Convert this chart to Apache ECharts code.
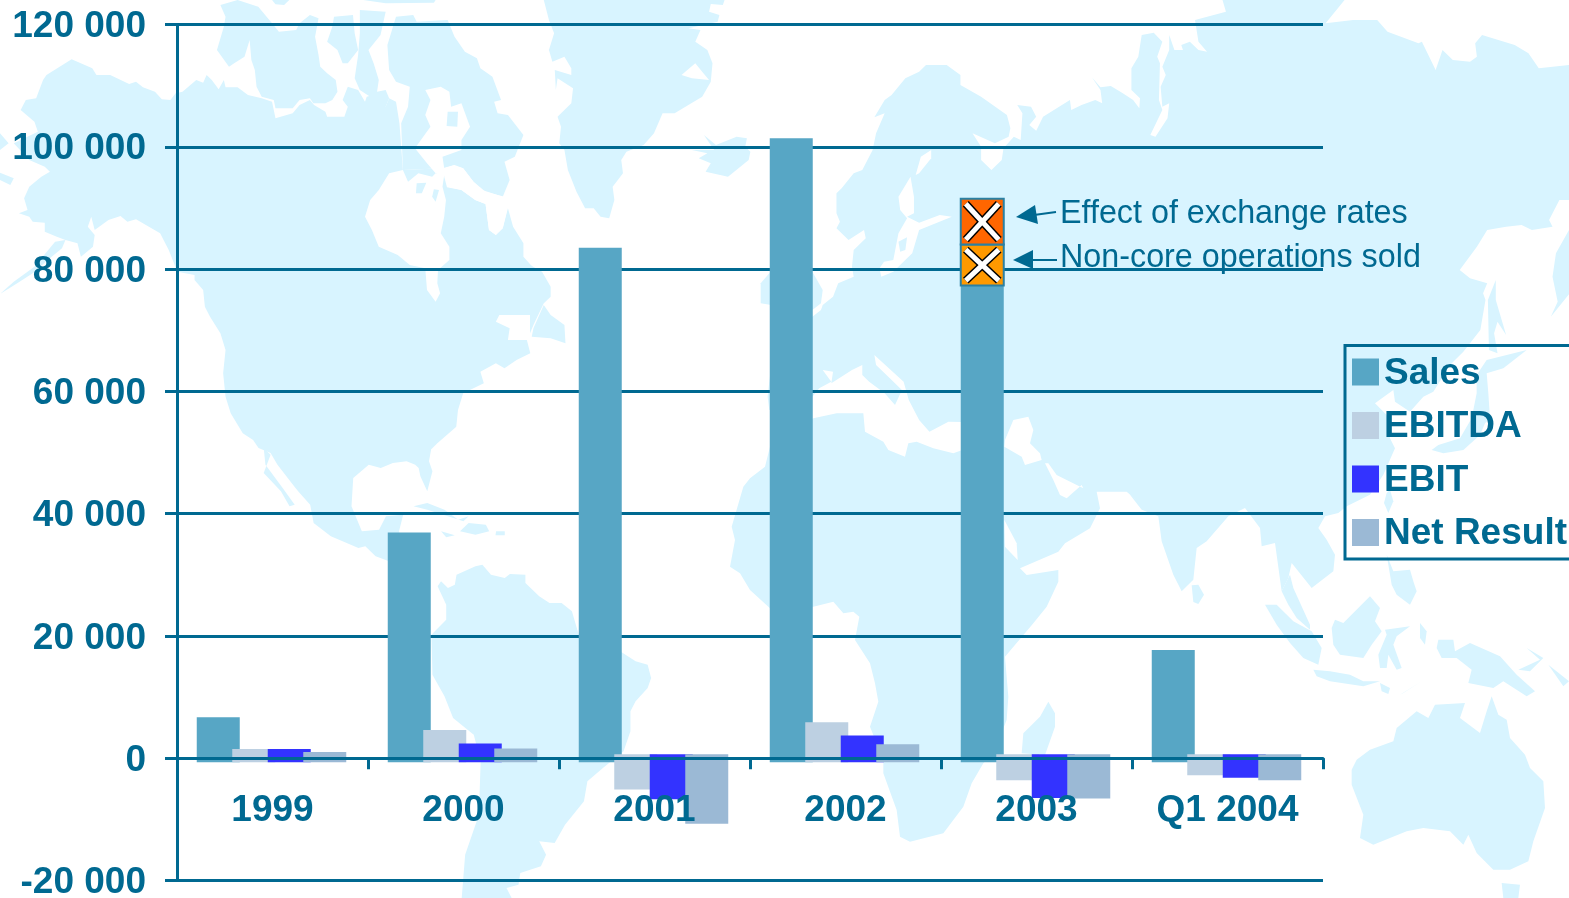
<!DOCTYPE html>
<html><head><meta charset="utf-8">
<style>html,body{margin:0;padding:0;background:#fff;overflow:hidden}#c{width:1569px;height:898px}</style>
<script src="https://cdn.jsdelivr.net/npm/echarts@6/dist/echarts.min.js"></script>
</head><body><div id="c"></div>
<script>
const categories = ['1999','2000','2001','2002','2003','Q1 2004'];
const salesValues = [6700,36900,83500,101400,77300,17700];
const ebitdaValues = [1500,4600,-5100,5900,-3600,-2800];
const ebitValues = [1500,2400,-6700,3700,-6500,-3200];
const netResultValues = [1000,1600,-10700,2300,-6600,-3600];
const nonCoreValues = [0,0,0,0,6700,0];
const exchangeValues = [0,0,0,0,7500,0];
const yTicks = {min:-20000,max:120000,interval:20000};
const baselineOverhang = 650;

const TEXT='#006991', LAND='#d8f4ff', FONT='"Liberation Sans",Arial,sans-serif';

// ---- decorative world map backdrop (traced crop coordinates -> page) ----
const tr=(ox,oy,sx,sy)=>a=>{const r=[];for(let i=0;i<a.length;i+=2)r.push([ox+a[i]/sx,oy+a[i+1]/sy]);return r;};
const Z5=tr(0,0,2.904,3),Z6=tr(530,0,2.904,3),Z7=tr(1030,0,2.909,3),Z8=tr(200,448,2.904,3),Z9=tr(700,400,3,3),Z10=tr(1130,448,3,3),Z3=tr(1330,335,3,3);
const landShapes=[
 // North America
 [...Z5([60,330,75,300,105,295,125,240,135,225,208,178,268,205,280,225,320,225,375,252,395,245,415,262,450,275,470,298,495,300,510,280,530,275,570,240,590,248,600,225,615,240,635,268,650,240,655,262,690,262,720,285,760,295,790,305,800,355,850,340,870,315,900,300,912,315,945,335,950,350,1000,350,1010,320,995,300,1010,260,1040,270,1060,305,1065,290,1100,280,1120,320,1130,295,1150,305,1160,370,1170,510,1285,505,1300,560,1340,570,1380,600,1410,612,1420,690,1440,705,1460,685,1475,625,1490,680,1520,730,1520,770,1550,805,1568,810,1568,915,1540,945,1450,945,1440,965,1480,985,1475,1020,1530,1020,1540,1060,1500,1080,1465,1105,1440,1090,1395,1115,1405,1150,1345,1180,1330,1230,1325,1280,1270,1330,1250,1350]),
  ...Z8([672,0,665,40,675,70,660,130,640,85,635,60,625,50,600,40,560,45,525,60,490,50,445,90,440,175,470,250,520,245,540,205,590,200,578,250,600,340,549,340,510,325,480,295,460,300,380,265,330,225,320,170,285,130,270,110,225,50,205,15,170,0]),
  ...Z5([735,1320,705,1300,670,1240,655,1190,648,1120,655,1050,640,1000,610,950,595,920,590,870,565,840,565,825,515,815,490,750,465,700,395,658,370,665,350,648,315,660,275,690,265,650,255,680,275,705,270,740,235,770,225,730,190,720,165,710,130,695,130,668,95,665,85,650,55,640,80,630,70,595,85,560,120,530,145,515,130,500,85,480,40,430,110,395,100,365])],
 Z5([190,720,180,745,150,770,95,820,50,850,0,882,40,845,100,800,160,725]),
 Z5([0,400,25,430,0,450]), Z5([0,518,40,535,30,555,0,540]),
 Z8([185,0,190,50,240,120,275,170,260,175,235,130,185,75,205,20]),
 Z5([640,15,690,0,750,20,790,70,810,95,860,90,870,70,900,45,925,55,915,110,925,165,930,200,950,220,975,240,980,275,965,300,945,310,910,310,900,295,870,300,850,325,800,325,795,300,760,290,745,260,740,210,730,180,725,120,710,170,680,190,665,200,630,150,650,80,655,50]),
 Z5([970,50,1025,45,1030,100,1040,150,1010,190,995,190,980,150,950,125,965,80]),
 Z5([1045,30,1120,35,1105,105,1070,150,1085,190,1100,240,1095,275,1120,270,1130,295,1120,320,1075,290,1045,270,1030,235,1040,165,1045,100]),
 Z5([1125,135,1150,50,1200,45,1210,65,1300,60,1320,110,1350,155,1385,175,1395,205,1430,230,1455,300,1435,305,1445,340,1475,345,1520,405,1495,470,1465,485,1480,540,1460,590,1400,570,1375,545,1345,505,1320,495,1285,505,1170,510,1165,370,1185,320,1190,260,1150,245,1130,210]),
 Z5([790,0,840,0,825,15,800,13]), Z5([1055,0,1265,0,1260,8,1120,10]),
 Z6([0,795,35,815,60,860,60,890,40,910,10,975,0,1000]),
 Z6([40,915,60,945,100,975,103,1030,60,1015,5,1010,10,985]),
 // Greenland, Iceland
 Z6([40,0,565,0,560,15,525,12,520,35,550,45,545,65,460,85,495,90,480,125,515,150,530,190,525,245,500,290,420,340,385,340,360,400,330,435,280,455,265,480,270,520,240,560,245,600,230,655,205,650,185,625,160,625,135,575,110,510,100,450,85,430,90,380,80,350,120,310,125,265,80,235,75,270,72,210,120,225,120,205,100,170,65,185,55,150,70,100,55,60]),
 Z6([505,405,540,435,600,410,630,415,625,440,640,455,635,480,575,530,510,515,525,490,490,475,515,460,470,450,535,450]),
 // UK
 Z6([670,850,695,820,820,815,850,870,845,910,820,930,700,915,670,910]),
 // Eurasia + Africa
 [...Z6([890,580,905,565,940,520,965,510,995,450,1005,400,1030,340,1000,352,1030,300,1050,285,1090,235,1130,215,1150,195,1210,195,1250,225,1250,255,1310,290,1385,345,1395,385,1390,410,1350,430,1285,400,1310,440,1310,480,1340,510,1370,480,1375,445,1405,410,1425,420,1430,340,1415,315,1455,320,1470,350,1450,375,1470,392,1490,350,1568,300]),
  ...Z7([120,330,150,315,190,300,210,310,205,270,180,232,205,262,235,258,270,280,300,300,318,325,320,295,295,270,295,205,315,170,325,105,360,98,385,125,370,170,378,190,375,300,385,330,350,405,365,410,400,355,405,310,385,320,380,260,395,225,385,200,405,150,405,105,420,150,445,150,440,135,465,125,490,150,515,155,490,125,480,60,570,35,560,0,915,0,860,70,940,60,1010,60,1040,95,1130,130,1140,125,1180,210,1200,150,1230,180,1280,185,1300,170,1295,130,1315,105,1410,135,1450,160,1480,205,1570,195,1570,600,1540,600,1510,660,1520,680,1460,690,1430,675,1385,680,1330,690,1300,740,1250,810,1280,835,1330,850,1318,880,1325,900,1310,990]),
  ...Z3([400,50,360,90,310,170,280,185,240,230,195,200,190,165,135,205,170,240,180,310,195,340]),
  ...Z10([760,80,740,110,720,140,650,175,625,195,585,205,565,240,590,275,615,320,610,370,545,420,485,345,475,390,455,430,435,285,395,295,390,240,345,180,295,205,230,280,200,300,190,395,155,430,130,380,95,280,85,205,35,185,0,140]),
  ...Z9([1320,310,1280,275,1190,275,1200,325,1170,385,1095,430,1075,455,960,505,980,525,1075,510,1075,545,1040,620,1000,670,915,770,925,890,920,960,880,1060,850,1090,815,1150,790,1220,730,1300,630,1325,600,1310,590,1230,550,1120,550,1080,510,980,535,905,525,850,510,790,465,720,478,650,460,635,430,640,400,605,340,620,210,625,150,570,120,520,90,500,105,420,95,380,130,260,150,235,195,200,210,140,340,55,410,40,490,40,495,95,550,125,565,150,615,170,625,130,650,125,700,145,760,160,787,150,787,66]),
  ...Z6([1215,1265,1160,1295,1130,1260,1100,1200,1085,1145,1000,1065,1005,1095,1045,1135,1080,1170,1060,1215,1030,1180,985,1145,965,1125,965,1095,935,1110,875,1150,880,1115,850,1110,875,1145,840,1165,820,1190,800,1230,695,1230,690,1190,700,1100,820,950,845,930,850,915,880,890,895,850,940,830,935,800,940,750,975,715,970,690,925,720,890,685,900,665,890,640])],
 Z10([470,400,480,380,490,420,540,530,540,545,500,510,475,470,455,430]),
 Z7([1568,690,1530,760,1520,830,1535,905,1515,950,1570,880]),
 Z7([1355,840,1355,900,1385,1005,1360,965,1350,1000,1360,1060,1335,1050,1332,900]),
 Z3([590,45,520,100,470,115,475,175,480,250,465,265,450,300,400,345,340,355,305,345,325,330,390,310,425,250,440,175,440,120,470,75]),
 Z10([185,412,205,410,222,440,205,468,190,462]),
 Z10([770,135,780,125,790,160,775,195,762,165]),
 Z8([620,175,660,165,710,185,750,215,780,205,765,220,720,205,660,185]),
 Z8([755,250,780,225,830,230,840,250,800,260]), Z8([700,250,740,262,715,268]), Z8([860,250,885,250,885,262,858,262]),
 // South America
 Z8([690,415,700,400,720,420,740,410,745,380,800,355,820,350,845,380,885,390,900,378,945,380,945,405,985,445,1015,465,1050,465,1080,490,1100,560,1220,610,1265,640,1300,650,1310,690,1300,720,1265,760,1250,790,1250,850,1230,910,1170,960,1125,1000,1115,1060,1060,1130,1030,1185,985,1180,1005,1220,990,1255,930,1275,925,1310,890,1320,905,1350,760,1350,770,1220,810,1100,815,940,795,860,735,810,710,745,675,680,672,560,715,515,715,470]),
 Z9([970,1000,1020,950,1045,905,1065,940,1065,980,1035,1065,965,1060]),
 // SE Asia and Oceania
 Z10([405,470,440,470,490,520,545,550,575,600,565,650,520,630,480,585,440,530]),
 Z10([605,540,615,515,640,525,720,445,750,480,735,520,755,550,725,590,700,630,630,620,610,590]),
 Z10([550,665,600,670,660,680,700,700,750,700,700,715,600,700,560,685]),
 Z10([745,620,770,560,765,545,840,535,800,565,790,590,815,660,800,665,775,620,770,660,750,660]),
 Z10([770,320,790,370,840,365,850,400,860,430,840,470,800,440,785,410]),
 Z10([925,575,970,575,975,610,1020,585,1110,625,1160,680,1215,730,1190,745,1120,700,1090,720,1015,705,1025,665,980,630,935,630,920,600]),
 Z10([810,740,875,700,820,735]), Z10([750,705,780,720,775,738,755,730]), Z10([870,525,890,550,885,590,870,570]),
 Z10([1165,665,1230,635,1190,600,1240,630,1200,670]), Z10([1255,650,1317,700,1300,715]),
 Z10([665,965,680,935,720,905,790,880,800,840,860,790,895,810,915,770,1005,765,990,810,1050,855,1070,790,1085,745,1105,800,1130,815,1140,870,1185,920,1200,960,1240,1000,1245,1080,1210,1180,1195,1240,1140,1265,1090,1265,1040,1215,1015,1160,1000,1190,960,1150,880,1140,830,1150,730,1190,690,1170,700,1100,665,1010]),
 Z10([1115,1305,1170,1310,1165,1350,1120,1350])
];
const seaShapes=[
 Z5([1235,270,1280,260,1305,275,1310,320,1340,310,1365,380,1340,420,1340,450,1285,470,1290,505,1320,495,1290,530,1265,520,1240,490,1205,445,1250,380,1235,345,1250,300]),
 Z5([1170,510,1185,545,1215,520,1255,530,1265,520,1290,525,1285,560,1295,600,1290,650,1280,700,1305,740,1305,780,1272,810,1270,850,1278,880,1265,905,1240,870,1235,805,1190,795,1155,765,1100,740,1080,690,1060,650,1075,600,1100,570,1130,520]),
 Z5([1290,530,1320,498,1345,505,1375,545,1410,575,1470,592,1478,605,1460,685,1440,705,1420,690,1410,612,1380,600,1340,570,1298,562]),
 Z6([440,225,480,190,500,215,520,240,470,235]),
 Z6([1070,590,1105,530,1115,590,1115,640,1095,650,1130,668,1190,645,1225,650,1130,690,1110,760,1055,815,1020,830,1015,805,1028,785,1055,780,1070,700,1095,655,1075,630]),
 Z6([1120,525,1135,470,1165,450,1165,475,1130,520]),
 Z9([913,140,915,120,940,60,985,50,1000,90,990,130,1020,160,1025,180,975,195,965,170]),
 Z9([1035,190,1060,240,1080,285,1100,295,1145,255,1150,265,1100,240,1070,225,1045,190]),
 Z9([913,360,950,430,953,480,915,440]),
 Z8([1440,965,1450,945,1540,945,1520,975,1480,985])
];
const islandShapes=[
 Z5([1300,335,1330,335,1328,380,1297,378]),
 Z5([1210,550,1238,548,1225,580,1208,580]), Z5([1260,568,1275,570,1265,605,1255,590]),
 Z6([1070,725,1095,712,1090,750,1075,755])
];
const mapEls=[];
landShapes.forEach(p=>mapEls.push({type:'polygon',z:-3,silent:true,shape:{points:p},style:{fill:LAND}}));
seaShapes.forEach(p=>mapEls.push({type:'polygon',z:-2,silent:true,shape:{points:p},style:{fill:'#fff'}}));
islandShapes.forEach(p=>mapEls.push({type:'polygon',z:-1,silent:true,shape:{points:p},style:{fill:LAND}}));

// ---- annotations ----
const noteEls=[
 {type:'text',z:20,silent:true,style:{x:1060,y:214,text:'Effect of exchange rates',fill:TEXT,font:'32.3px '+FONT,textVerticalAlign:'middle',verticalAlign:'middle'}},
 {type:'text',z:20,silent:true,style:{x:1060,y:258,text:'Non-core operations sold',fill:TEXT,font:'32.3px '+FONT,textVerticalAlign:'middle',verticalAlign:'middle'}},
 {type:'polygon',z:20,silent:true,shape:{points:[[1016,217],[1035,205],[1038,224]]},style:{fill:TEXT}},
 {type:'line',z:20,silent:true,shape:{x1:1034,y1:215,x2:1056,y2:212},style:{stroke:TEXT,lineWidth:2}},
 {type:'polygon',z:20,silent:true,shape:{points:[[1013,260],[1033,250],[1033,269]]},style:{fill:TEXT}},
 {type:'line',z:20,silent:true,shape:{x1:1031,y1:260,x2:1057,y2:260},style:{stroke:TEXT,lineWidth:2}}
];

// ---- bars ----
const barW=43, barStep=35.5, groupShift=-1;
function barRender(k){
  return function(params,api){
    const i=api.value(0), v=api.value(1);
    const cx=api.coord([i,0])[0]+groupShift+(k-1.5)*barStep;
    const y1=api.coord([i,v])[1];
    const y0=api.coord([i,v>=0?-baselineOverhang:baselineOverhang])[1];
    return {type:'rect',shape:{x:cx-barW/2,y:Math.min(y0,y1),width:barW,height:Math.abs(y0-y1)},style:{fill:api.visual('color')}};
  };
}
function patternRender(getBase){
  return function(params,api){
    const i=api.value(0), v=api.value(1);
    const base=getBase(i);
    const cx=api.coord([i,0])[0]+groupShift-1.5*barStep;
    const yb=api.coord([i,base])[1], yt=api.coord([i,base+v])[1];
    const x0=cx-barW/2, x1=cx+barW/2, ix=5, iy=5;
    const line=(a,b,c,d,col,w)=>({type:'line',shape:{x1:a,y1:b,x2:c,y2:d},style:{stroke:col,lineWidth:w,lineCap:'butt'}});
    return {type:'group',children:[
      {type:'rect',shape:{x:x0,y:yt,width:barW,height:yb-yt},style:{fill:api.visual('color'),stroke:'#2b80a3',lineWidth:2}},
      line(x0+ix,yt+iy,x1-ix,yb-iy,'#000',8),line(x1-ix,yt+iy,x0+ix,yb-iy,'#000',8),
      line(x0+ix,yt+iy,x1-ix,yb-iy,'#fff',5),line(x1-ix,yt+iy,x0+ix,yb-iy,'#fff',5)
    ]};
  };
}
const toData=a=>a.map((v,i)=>[i,v]);
const named=[['Sales',salesValues,'#57a6c5'],['EBITDA',ebitdaValues,'#bdd0e2'],['EBIT',ebitValues,'#3333ff'],['Net Result',netResultValues,'#9bb9d5']];
const series=named.map((s,k)=>({name:s[0],type:'custom',z:2+k*0.01,itemStyle:{color:s[2]},renderItem:barRender(k),data:toData(s[1]),encode:{x:0,y:1},clip:false,animation:false}));
series.push({name:'Non-core operations sold',type:'custom',z:3,itemStyle:{color:'#ff9900'},renderItem:patternRender(i=>salesValues[i]),data:toData(nonCoreValues).filter(d=>d[1]),encode:{x:0,y:1},animation:false});
series.push({name:'Effect of exchange rates',type:'custom',z:3.1,itemStyle:{color:'#ff6600'},renderItem:patternRender(i=>salesValues[i]+nonCoreValues[i]),data:toData(exchangeValues).filter(d=>d[1]),encode:{x:0,y:1},animation:false});

const richText=top=>({a:{color:TEXT,fontSize:37,fontWeight:'bold',fontFamily:FONT,padding:[top,0,0,0]}});
const chart=echarts.init(document.getElementById('c'),null,{renderer:'canvas'});
chart.setOption({
  animation:false,
  backgroundColor:'#fff',
  textStyle:{fontFamily:FONT},
  graphic:{elements:mapEls.concat(noteEls)},
  grid:{left:177,right:246,top:24.5,bottom:17.5,containLabel:false,outerBoundsMode:'none'},
  legend:{
    orient:'vertical',left:1345,top:345.5,
    data:named.map(s=>({name:s[0],icon:'rect'})),
    itemWidth:27,itemHeight:27,itemGap:16.5,
    padding:[9.5,30,6.5,7],
    borderColor:TEXT,borderWidth:3,
    backgroundColor:'transparent',
    formatter:n=>'{a|'+n+'}',
    textStyle:{color:TEXT,fontSize:37,fontWeight:'bold',fontFamily:FONT,rich:richText(3)}
  },
  xAxis:{
    type:'category',data:categories,z:6,
    axisLine:{show:true,onZero:true,lineStyle:{color:TEXT,width:3}},
    axisTick:{show:true,length:11,inside:false,lineStyle:{color:TEXT,width:3}},
    axisLabel:{color:TEXT,fontSize:37,fontWeight:'bold',fontFamily:FONT,margin:-88,interval:0},
    splitLine:{show:false}
  },
  yAxis:{
    type:'value',min:yTicks.min,max:yTicks.max,interval:yTicks.interval,
    axisLine:{show:true,lineStyle:{color:TEXT,width:3}},
    axisTick:{show:true,length:12,lineStyle:{color:TEXT,width:3}},
    axisLabel:{color:TEXT,fontSize:37,fontWeight:'bold',fontFamily:FONT,margin:31,rich:richText(5),
      formatter:v=>'{a|'+String(v).replace(/\B(?=(\d{3})+$)/g,' ')+'}'},
    splitLine:{show:true,lineStyle:{color:TEXT,width:3}}
  },
  series:series
});
</script></body></html>
